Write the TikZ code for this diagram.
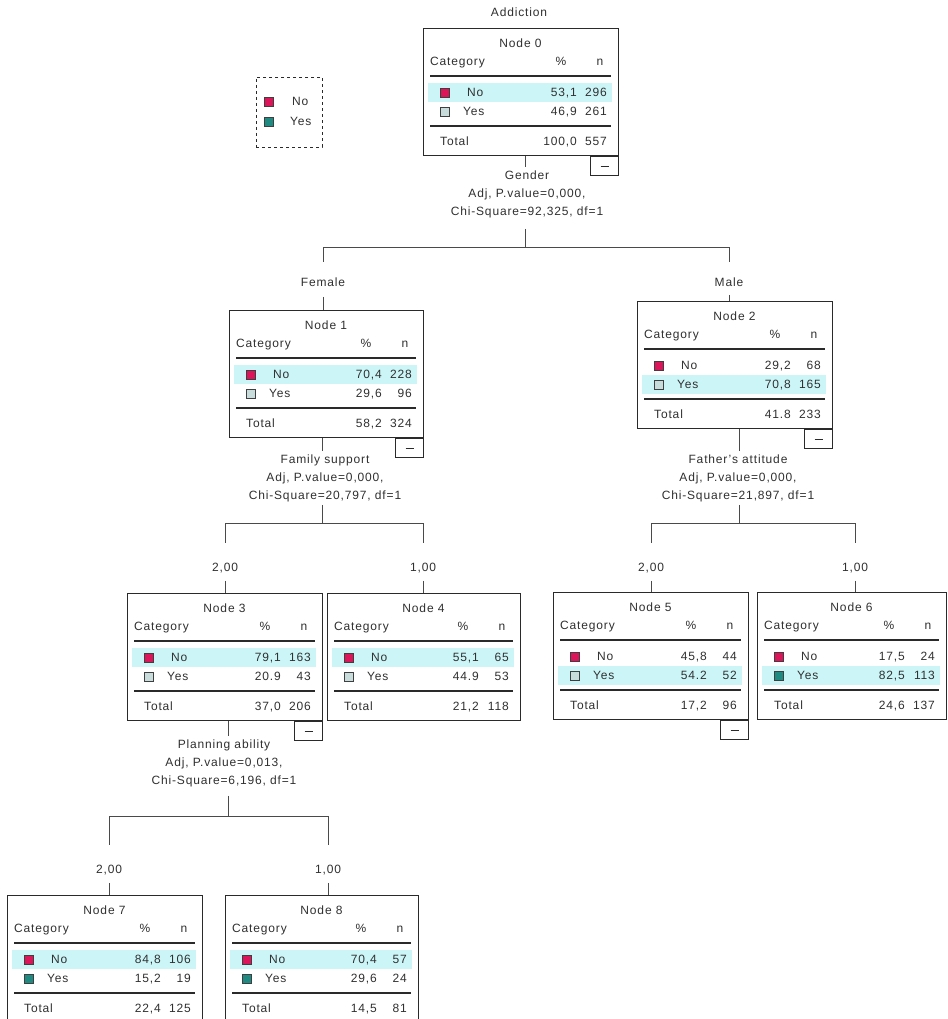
\documentclass[tikz,border=0pt]{standalone}
\usepackage{fontspec}
\setmainfont{Liberation Sans}[LetterSpace=7]
\definecolor{nocol}{HTML}{DC145A}
\definecolor{yespale}{HTML}{C8DCDC}
\definecolor{yesteal}{HTML}{1E8A82}
\definecolor{hlcol}{HTML}{CCF5F8}
\definecolor{linecol}{HTML}{2A2A2A}
\definecolor{textcol}{HTML}{303030}
\tikzset{
  txt/.style={inner sep=0pt, text height=8.7pt, text depth=2.5pt, font=\fontsize{12}{14}\selectfont, text=textcol},
  tbox/.style={draw=linecol, line width=1.2pt, inner sep=0pt, rectangle, minimum height=127pt},
  sq/.style={draw=linecol!90, line width=0.8pt, minimum size=9pt, inner sep=0pt, rectangle},
  sepline/.style={draw=linecol, line width=1.2pt},
  cbox/.style={draw=linecol, line width=1.2pt, minimum width=28pt, minimum height=19pt, inner sep=0pt, rectangle},
  minusline/.style={draw=linecol, line width=1pt},
  conn/.style={draw=linecol!85, line width=0.9pt},
  splitlab/.style={inner sep=3pt, align=center, font=\fontsize{12}{18}\selectfont, text=textcol},
  brlab/.style={txt, inner sep=2pt},
  legbox/.style={draw=linecol, dashed, line width=0.9pt, minimum width=66pt, minimum height=70pt, inner sep=0pt, rectangle}
}
% table node: #1 index, #2 left, #3 top, #4 No %, #5 No n, #6 Yes %, #7 Yes n, #8 total %, #9 total n
\newcommand\tnode[9]{%
  \pgfmathsetmacro\tRgt{#2+\tW}%
  \fill[hlcol] (#2+5,#3+55+19*\tHL) rectangle (\tRgt-6,#3+74+19*\tHL);
  \node[tbox, minimum width=\tW pt, anchor=north west] (n#1) at (#2,#3) {};
  \node[txt] (n#1-t) at (#2+\tW/2,#3+16) {Node #1};
  \node[txt, anchor=west] (n#1-c) at (#2+7,#3+34) {Category};
  \node[txt] (n#1-p) at (\tRgt-57,#3+34) {\%};
  \node[txt] (n#1-n) at (\tRgt-18,#3+34) {n};
  \draw[sepline] (#2+7,#3+48) -- (\tRgt-7,#3+48);
  \node[sq, fill=nocol] (n#1-s1) at (#2+22,#3+65) {};
  \node[txt, anchor=west] (n#1-r1) at (#2+44,#3+65) {No};
  \node[txt, anchor=east] (n#1-p1) at (\tRgt-41,#3+65) {#4};
  \node[txt, anchor=east] (n#1-n1) at (\tRgt-11,#3+65) {#5};
  \node[sq, fill=\tYC] (n#1-s2) at (#2+22,#3+84) {};
  \node[txt, anchor=west] (n#1-r2) at (#2+40,#3+84) {Yes};
  \node[txt, anchor=east] (n#1-p2) at (\tRgt-41,#3+84) {#6};
  \node[txt, anchor=east] (n#1-n2) at (\tRgt-11,#3+84) {#7};
  \draw[sepline] (#2+7,#3+98) -- (\tRgt-7,#3+98);
  \node[txt, anchor=west] (n#1-r3) at (#2+17,#3+114) {Total};
  \node[txt, anchor=east] (n#1-p3) at (\tRgt-41,#3+114) {#8};
  \node[txt, anchor=east] (n#1-n3) at (\tRgt-11,#3+114) {#9};
}
\newcommand\tcollapse[1]{%
  \node[cbox, anchor=north east] (n#1-x) at (n#1.south east) {};
  \draw[minusline] ([xshift=-4pt]n#1-x.center) -- ([xshift=4pt]n#1-x.center);
}
\begin{document}
\begin{tikzpicture}[x=1pt,y=-1pt]
\useasboundingbox (0,0) rectangle (947,1019);
\fill[white] (0,0) rectangle (947,1019);

% title
\node[txt] (title) at (519,13) {Addiction};

% legend
\node[legbox] (leg) at (289,112) {};
\node[sq, fill=nocol] (leg-nosq) at (269,102) {};
\node[txt, anchor=west] (leg-no) at (292,102) {No};
\node[sq, fill=yesteal] (leg-yessq) at (269,122) {};
\node[txt, anchor=west] (leg-yes) at (290,122) {Yes};

% tables
\def\tW{195}\def\tHL{0}\def\tYC{yespale}
\tnode{0}{423}{28}{53,1}{296}{46,9}{261}{100,0}{557}
\def\tW{194}
\tnode{1}{229}{310}{70,4}{228}{29,6}{96}{58,2}{324}
\def\tW{195}\def\tHL{1}
\tnode{2}{637}{301}{29,2}{68}{70,8}{165}{41.8}{233}
\def\tHL{0}
\tnode{3}{127}{593}{79,1}{163}{20.9}{43}{37,0}{206}
\def\tW{193}
\tnode{4}{327}{593}{55,1}{65}{44.9}{53}{21,2}{118}
\def\tW{195}\def\tHL{1}
\tnode{5}{553}{592}{45,8}{44}{54.2}{52}{17,2}{96}
\def\tW{189}\def\tYC{yesteal}
\tnode{6}{757}{592}{17,5}{24}{82,5}{113}{24,6}{137}
\def\tW{195}\def\tHL{0}
\tnode{7}{7}{895}{84,8}{106}{15,2}{19}{22,4}{125}
\def\tW{193}
\tnode{8}{225}{895}{70,4}{57}{29,6}{24}{14,5}{81}

\tcollapse{0}
\tcollapse{1}
\tcollapse{2}
\tcollapse{3}
\tcollapse{5}

% split of node 0
\node[splitlab] (s0) at (527,194) {Gender\\Adj, P.value=0,000,\\Chi-Square=92,325, df=1};
\coordinate (h0) at (525,247);
\draw[conn] (n0.south -| h0) -- (s0.north -| h0);
\draw[conn, shorten <=8pt] (s0.south -| h0) -- (h0);
\node[brlab] (l1) at (323,283) {Female};
\node[brlab] (l2) at (729,283) {Male};
\draw[conn] (l1 |- h0) -- (l2 |- h0);
\draw[conn, shorten >=13pt] (l1 |- h0) -- (l1.north);
\draw[conn, shorten >=13pt] (l2 |- h0) -- (l2.north);
\draw[conn, shorten <=6pt] (l1.south) -- (l1.south |- n1.north);
\draw[conn, shorten <=4pt] (l2.south) -- (l2.south |- n2.north);

% split of node 1
\node[splitlab] (s1) at (325,478) {Family support\\Adj, P.value=0,000,\\Chi-Square=20,797, df=1};
\coordinate (h1) at (322,523);
\draw[conn] (n1.south -| h1) -- (s1.north -| h1);
\draw[conn] (s1.south -| h1) -- (h1);
\node[brlab] (l3) at (225,568) {2,00};
\node[brlab] (l4) at (423,568) {1,00};
\draw[conn] (l3 |- h1) -- (l4 |- h1);
\draw[conn, shorten >=17pt] (l3 |- h1) -- (l3.north);
\draw[conn, shorten >=17pt] (l4 |- h1) -- (l4.north);
\draw[conn, shorten <=5pt] (l3.south) -- (l3.south |- n3.north);
\draw[conn, shorten <=5pt] (l4.south) -- (l4.south |- n4.north);

% split of node 2
\node[splitlab] (s2) at (738,478) {Father's attitude\\Adj, P.value=0,000,\\Chi-Square=21,897, df=1};
\coordinate (h2) at (739,523);
\draw[conn] (n2.south -| h2) -- (s2.north -| h2);
\draw[conn] (s2.south -| h2) -- (h2);
\node[brlab] (l5) at (651,568) {2,00};
\node[brlab] (l6) at (855,568) {1,00};
\draw[conn] (l5 |- h2) -- (l6 |- h2);
\draw[conn, shorten >=17pt] (l5 |- h2) -- (l5.north);
\draw[conn, shorten >=17pt] (l6 |- h2) -- (l6.north);
\draw[conn, shorten <=5pt] (l5.south) -- (l5.south |- n5.north);
\draw[conn, shorten <=5pt] (l6.south) -- (l6.south |- n6.north);

% split of node 3
\node[splitlab] (s3) at (224,763) {Planning ability\\Adj, P.value=0,013,\\Chi-Square=6,196, df=1};
\coordinate (h3) at (228,816);
\draw[conn] (n3.south -| h3) -- (s3.north -| h3);
\draw[conn, shorten <=6pt] (s3.south -| h3) -- (h3);
\node[brlab] (l7) at (109,870) {2,00};
\node[brlab] (l8) at (328,870) {1,00};
\draw[conn] (l7 |- h3) -- (l8 |- h3);
\draw[conn, shorten >=17pt] (l7 |- h3) -- (l7.north);
\draw[conn, shorten >=17pt] (l8 |- h3) -- (l8.north);
\draw[conn, shorten <=5pt] (l7.south) -- (l7.south |- n7.north);
\draw[conn, shorten <=5pt] (l8.south) -- (l8.south |- n8.north);
\end{tikzpicture}
\end{document}
